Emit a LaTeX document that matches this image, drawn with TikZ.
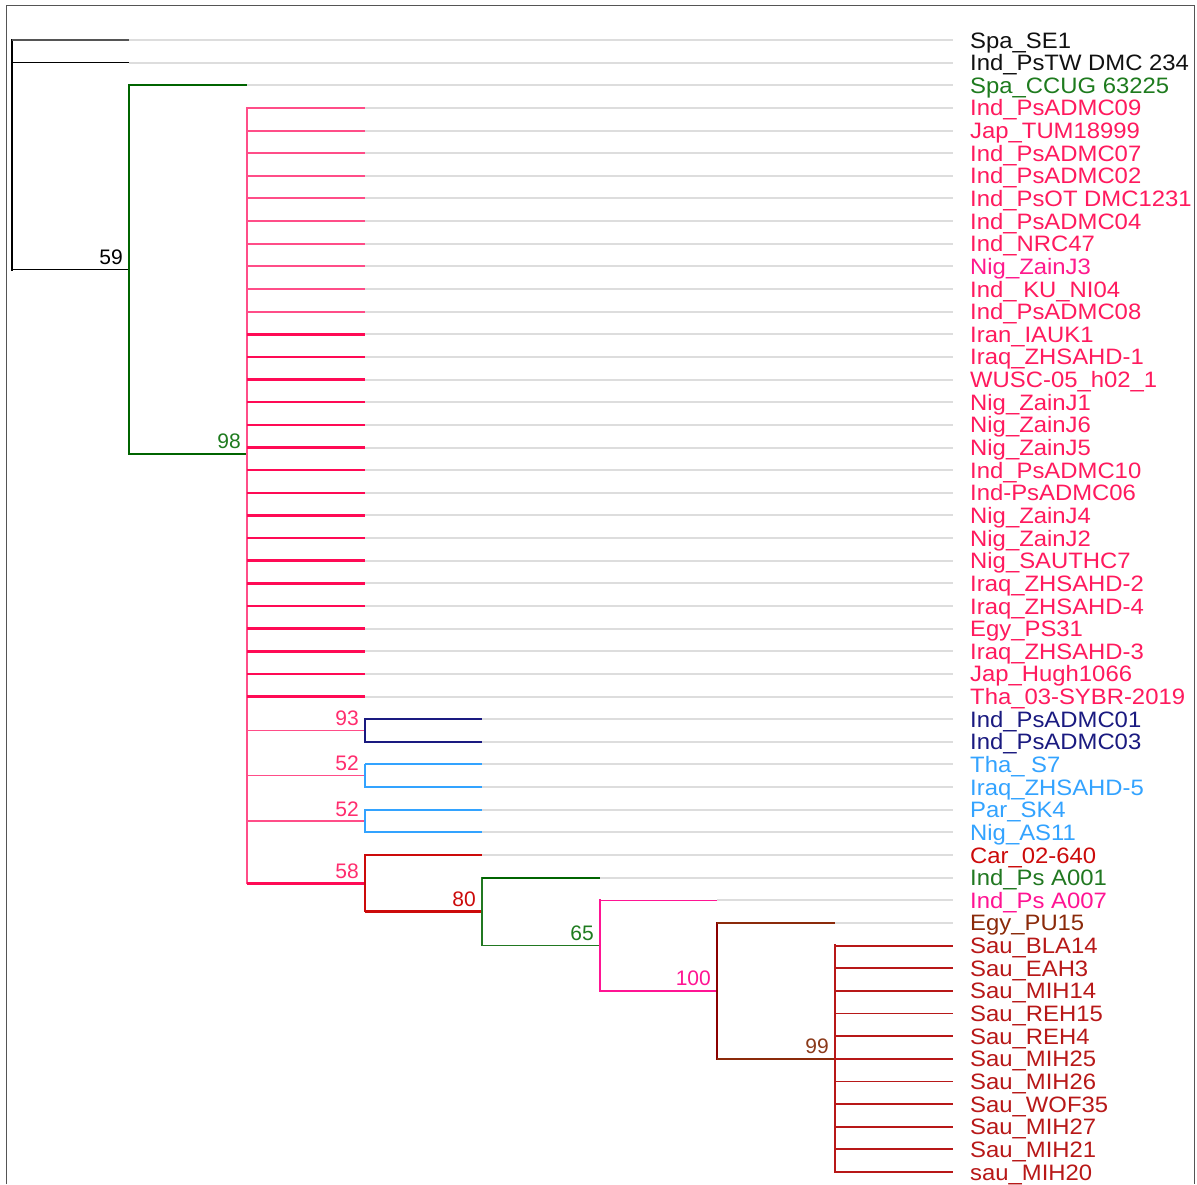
\documentclass[tikz,border=0pt]{standalone}
\usepackage{fontspec}
\setmainfont{Liberation Sans}
\usepackage{graphicx}
\definecolor{framec}{HTML}{555555}
\definecolor{extgray}{HTML}{DDDDDD}
\definecolor{cgray}{HTML}{555555}
\definecolor{cblack}{HTML}{111111}
\definecolor{dgreen}{HTML}{006400}
\definecolor{tgreen}{HTML}{1E7B1E}
\definecolor{pinkA}{HTML}{FF4D88}
\definecolor{pinkB}{HTML}{FF0A55}
\definecolor{tpink}{HTML}{FF1A5E}
\definecolor{tmag}{HTML}{FF1A8C}
\definecolor{navy}{HTML}{1A1A80}
\definecolor{lblue}{HTML}{33A3FF}
\definecolor{cred}{HTML}{CC0A0A}
\definecolor{mgreen}{HTML}{217821}
\definecolor{dpink}{HTML}{FF1493}
\definecolor{brown}{HTML}{8B2A0A}
\definecolor{dred}{HTML}{8B0000}
\definecolor{sred}{HTML}{B81818}
\definecolor{bpink}{HTML}{FF2D6E}
\definecolor{bbrown}{HTML}{8B3A1A}
\tikzset{
  leaflab/.style={anchor=base west, inner sep=0pt, font=\fontsize{22.3}{24}\selectfont},
  bootlab/.style={anchor=base east, inner sep=0pt, font=\fontsize{21}{22}\selectfont, xshift=-6pt, yshift=5pt},
  ext/.style={draw=extgray, line width=2pt},
  vline/.style={line width=#1, line cap=rect},
  hline/.style={line width=#1},
}
\begin{document}
\begin{tikzpicture}[x=1pt,y=-1pt]
\useasboundingbox (0,0) rectangle (1197,1184);
\fill[white] (0,0) rectangle (1197,1184);
\draw[framec, line width=1.5pt] (6.5,1184) -- (6.5,5.5) -- (1194.5,5.5) -- (1194.5,1184);

% leaves: index / tip x / label colour / label
\foreach \i/\x/\c/\t in {
 1/129/cblack/Spa\_SE1,
 2/129/cblack/Ind\_PsTW DMC 234,
 3/247/tgreen/Spa\_CCUG 63225,
 4/365/tpink/Ind\_PsADMC09,
 5/365/tpink/Jap\_TUM18999,
 6/365/tpink/Ind\_PsADMC07,
 7/365/tpink/Ind\_PsADMC02,
 8/365/tpink/Ind\_PsOT DMC1231,
 9/365/tpink/Ind\_PsADMC04,
 10/365/tpink/Ind\_NRC47,
 11/365/tmag/Nig\_ZainJ3,
 12/365/tpink/Ind\_ KU\_NI04,
 13/365/tpink/Ind\_PsADMC08,
 14/365/tpink/Iran\_IAUK1,
 15/365/tpink/Iraq\_ZHSAHD-1,
 16/365/tpink/WUSC-05\_h02\_1,
 17/365/tpink/Nig\_ZainJ1,
 18/365/tpink/Nig\_ZainJ6,
 19/365/tpink/Nig\_ZainJ5,
 20/365/tpink/Ind\_PsADMC10,
 21/365/tpink/Ind-PsADMC06,
 22/365/tpink/Nig\_ZainJ4,
 23/365/tpink/Nig\_ZainJ2,
 24/365/tpink/Nig\_SAUTHC7,
 25/365/tpink/Iraq\_ZHSAHD-2,
 26/365/tpink/Iraq\_ZHSAHD-4,
 27/365/tpink/Egy\_PS31,
 28/365/tpink/Iraq\_ZHSAHD-3,
 29/365/tpink/Jap\_Hugh1066,
 30/365/tpink/Tha\_03-SYBR-2019,
 31/482/navy/Ind\_PsADMC01,
 32/482/navy/Ind\_PsADMC03,
 33/482/lblue/Tha\_ S7,
 34/482/lblue/Iraq\_ZHSAHD-5,
 35/482/lblue/Par\_SK4,
 36/482/lblue/Nig\_AS11,
 37/482/cred/Car\_02-640,
 38/600/mgreen/Ind\_Ps A001,
 39/717/dpink/Ind\_Ps A007,
 40/835/brown/Egy\_PU15,
 41/953/sred/Sau\_BLA14,
 42/953/sred/Sau\_EAH3,
 43/953/sred/Sau\_MIH14,
 44/953/sred/Sau\_REH15,
 45/953/sred/Sau\_REH4,
 46/953/sred/Sau\_MIH25,
 47/953/sred/Sau\_MIH26,
 48/953/sred/Sau\_WOF35,
 49/953/sred/Sau\_MIH27,
 50/953/sred/Sau\_MIH21,
 51/953/sred/sau\_MIH20}
{
  \pgfmathsetmacro\yy{40+(\i-1)*22.64}
  \coordinate (L\i) at (\x,\yy);
  \node[leaflab, text=\c] (t\i) at (970,\yy+8) {\scalebox{1.07}[1]{\t}};
}

% internal nodes
\coordinate (R) at (12,155);
\coordinate (n59) at (129,269.6);
\coordinate (n98) at (247,453.91);
\coordinate (n93) at (365,730.52);
\coordinate (n52a) at (365,775.8);
\coordinate (n52b) at (365,821.08);
\coordinate (n58) at (365,883.34);
\coordinate (n80) at (482,911.64);
\coordinate (n65) at (600,945.6);
\coordinate (n100) at (717,990.88);
\coordinate (n99) at (835,1058.8);
\coordinate (E) at (953,0);

% grey extensions
\foreach \i in {1,...,40} \draw[ext] (L\i) -- (L\i -| E);

% root
\draw[black, vline=2pt] (R |- L1) -- (R |- n59);
\draw[cgray, hline=2pt] (R |- L1) -- (L1);
\draw[black, hline=1.5pt] (R |- L2) -- (L2);
\draw[black, hline=1.5pt] (R |- n59) -- (n59);

% node 59
\draw[dgreen, vline=2.5pt] (n59 |- L3) -- (n59 |- n98);
\draw[dgreen, hline=2pt] (n59 |- L3) -- (L3);
\draw[dgreen, hline=2.2pt] (n59 |- n98) -- (n98);

% node 98
\draw[pinkA, vline=1.5pt] (n98 |- L4) -- (n98 |- n58);
\foreach \i in {4,...,13} \draw[pinkA, hline=2pt] (n98 |- L\i) -- (L\i);
\foreach \i in {14,...,30} \draw[pinkB, hline=2.5pt] (n98 |- L\i) -- (L\i);
\draw[pinkA, hline=1.3pt] (n98 |- n93) -- (n93);
\draw[pinkA, hline=1.3pt] (n98 |- n52a) -- (n52a);
\draw[pinkA, hline=1.3pt] (n98 |- n52b) -- (n52b);
\draw[pinkB, hline=2.5pt] (n98 |- n58) -- (n58);

% node 93
\draw[navy, vline=1.5pt] (n93 |- L31) -- (n93 |- L32);
\draw[navy, hline=2pt] (n93 |- L31) -- (L31);
\draw[navy, hline=2pt] (n93 |- L32) -- (L32);

% nodes 52
\draw[lblue, vline=1.5pt] (n52a |- L33) -- (n52a |- L34);
\draw[lblue, hline=2pt] (n52a |- L33) -- (L33);
\draw[lblue, hline=2pt] (n52a |- L34) -- (L34);
\draw[lblue, vline=1.5pt] (n52b |- L35) -- (n52b |- L36);
\draw[lblue, hline=2pt] (n52b |- L35) -- (L35);
\draw[lblue, hline=2pt] (n52b |- L36) -- (L36);

% node 58
\draw[cred, vline=1.5pt] (n58 |- L37) -- (n58 |- n80);
\draw[cred, hline=2.5pt] (n58 |- L37) -- (L37);
\draw[cred, hline=2.5pt] (n58 |- n80) -- (n80);

% node 80
\draw[mgreen, vline=1.3pt] (n80 |- L38) -- (n80 |- n65);
\draw[dgreen, hline=2pt] (n80 |- L38) -- (L38);
\draw[mgreen, hline=1.3pt] (n80 |- n65) -- (n65);

% node 65
\draw[dpink, vline=2pt] (n65 |- L39) -- (n65 |- n100);
\draw[dpink, hline=1.5pt] (n65 |- L39) -- (L39);
\draw[dpink, hline=1.5pt] (n65 |- n100) -- (n100);

% node 100
\draw[dred, vline=2.5pt] (n100 |- L40) -- (n100 |- n99);
\draw[brown, hline=2pt] (n100 |- L40) -- (L40);
\draw[brown, hline=2pt] (n100 |- n99) -- (n99);

% node 99
\draw[sred, vline=2.5pt] (n99 |- L41) -- (n99 |- L51);
\foreach \i in {41,...,51} \draw[sred, hline=1.8pt] (n99 |- L\i) -- (L\i);

% bootstrap values
\node[bootlab, text=black] (b59) at (n59) {59};
\node[bootlab, text=tgreen] (b98) at (n98) {98};
\node[bootlab, text=bpink] (b93) at (n93) {93};
\node[bootlab, text=bpink] (b52a) at (n52a) {52};
\node[bootlab, text=bpink] (b52b) at (n52b) {52};
\node[bootlab, text=bpink] (b58) at (n58) {58};
\node[bootlab, text=cred] (b80) at (n80) {80};
\node[bootlab, text=tgreen] (b65) at (n65) {65};
\node[bootlab, text=dpink] (b100) at (n100) {100};
\node[bootlab, text=bbrown] (b99) at (n99) {99};
\end{tikzpicture}
\end{document}
